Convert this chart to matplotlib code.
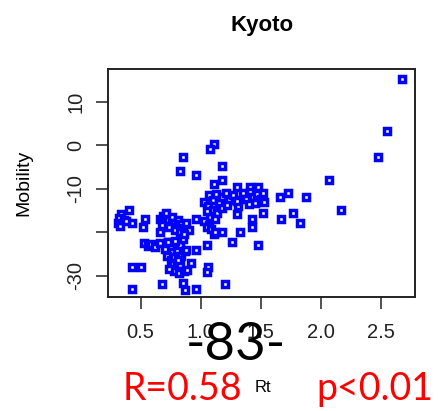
import matplotlib
matplotlib.use('Agg')
import matplotlib.pyplot as plt

plt.rcParams['font.family'] = ['Liberation Sans', 'DejaVu Sans']

# Rt vs Mobility, Kyoto
rt = [2.68, 2.55, 2.48, 2.07, 2.17, 1.88, 1.73, 1.66, 1.77, 1.83, 1.67,
      1.48, 1.52, 1.43, 1.43, 1.33, 1.26, 1.30, 1.31, 1.31, 1.30, 1.41, 1.48,
      1.11, 1.08, 1.18, 1.18, 1.11, 0.85, 0.83, 0.96,
      1.03, 1.07, 1.10, 1.13, 1.15, 1.18, 1.21, 1.24, 1.27, 1.30, 1.35, 1.38,
      1.41, 1.44, 1.47, 1.50, 1.52, 1.53, 1.45, 1.40, 1.06, 1.10, 1.14, 1.08,
      1.03, 1.07, 1.12, 1.05, 1.18, 1.22, 1.05, 1.11, 1.09,
      0.66, 0.69, 0.71, 0.73, 0.76, 0.78, 0.81, 0.84, 0.86, 0.88, 0.68, 0.74,
      0.79, 0.83, 0.90,
      0.53, 0.56, 0.59, 0.62, 0.66, 0.70, 0.73, 0.76, 0.72, 0.75, 0.78, 0.80,
      0.83, 0.85, 0.86, 0.77, 0.80, 0.83, 0.78, 0.82, 0.86, 0.89, 0.74, 0.84,
      0.87, 0.79, 0.81,
      0.40, 0.34, 0.32, 0.31, 0.33, 0.36, 0.43, 0.38, 0.54, 0.52, 0.96,
      1.12, 1.18, 1.05, 0.88, 0.96, 0.92, 0.43, 0.50, 1.06, 1.05, 0.68, 0.85,
      1.20, 0.43, 0.87, 0.96, 0.66, 0.73]
mobility = [15.1, 3.3, -2.8, -7.9, -14.8, -12.0, -11.1, -12.0, -15.7, -18.0, -17.0,
            -23.0, -15.7, -17.0, -18.9, -19.9, -22.2, -15.8, -14.0, -12.6, -9.7, -9.7, -9.7,
            0.3, -1.0, -4.8, -7.9, -8.9, -2.8, -5.9, -6.9,
            -13.0, -11.5, -12.5, -11.2, -13.3, -12.0, -11.0, -12.6, -11.4, -12.8, -11.0, -12.3,
            -10.8, -12.0, -11.2, -12.4, -11.0, -13.0, -13.2, -13.5, -14.0, -14.8, -15.5, -16.5,
            -17.5, -18.3, -17.0, -15.2, -14.5, -13.8, -18.9, -20.5, -19.3,
            -17.0, -16.2, -15.7, -17.2, -16.5, -17.8, -17.3, -18.2, -19.0, -18.0, -18.3, -18.8,
            -19.4, -20.0, -19.5,
            -22.5, -23.2, -22.8, -23.4, -22.5, -23.8, -22.2, -24.5, -25.5, -26.3, -25.8, -24.0,
            -23.0, -21.5, -20.5, -27.3, -28.0, -27.5, -28.9, -29.3, -29.0, -28.7, -28.5, -25.5,
            -24.3, -22.0, -26.5,
            -14.8, -15.8, -16.8, -17.8, -18.5, -17.2, -18.0, -17.5, -17.0, -18.9, -17.0,
            -19.9, -19.9, -23.0, -24.1, -24.1, -27.0, -28.1, -28.1, -27.9, -29.1, -31.8, -31.6,
            -31.8, -33.1, -33.3, -33.1, -19.9, -22.2]

yticks = [10, 0, -10, -20, -30]
ytick_labels = ['10', '0', '-10', '', '-30']
xticks = [0.5, 1.0, 1.5, 2.0, 2.5]

fig = plt.figure(figsize=(4.42, 4.11), dpi=100)
ax = fig.add_axes([0.2443, 0.2774, 0.6946, 0.5547])
ax.plot(rt, mobility, 's', color='blue', markersize=4.3, mfc='white', mec='blue', mew=2.5)
ax.set_xlim(0.228, 2.786)
ax.set_ylim(-34.9, 17.5)
ax.set_xticks(xticks)
ax.set_xticklabels(['0.5', '1.0', '1.5', '2.0', '2.5'])
ax.set_yticks(yticks)
ax.set_yticklabels(ytick_labels, rotation=90, va='center')
ax.tick_params(length=8.5, width=1.2, labelsize=14.5, colors='#333333', labelcolor='#222222', pad=10)
ax.tick_params(axis='y', pad=8)
for s in ax.spines.values():
    s.set_linewidth(1.4)
    s.set_color('#222222')

ax.set_ylabel('Mobility', fontsize=14, va='center')
ax.yaxis.set_label_coords(-0.274, 0.5)
ax.set_xlabel('Rt', fontsize=12, va='center')
ax.xaxis.set_label_coords(0.505, -0.395)

fig.text(0.592, 0.925, 'Kyoto', fontsize=16, fontweight='bold', ha='center', va='baseline')
fig.text(0.534, 0.124, '-83-', fontsize=38, family='Lato', ha='center', va='baseline')
fig.text(0.412, 0.0268, 'R=0.58', fontsize=27, family='Lato', color='red', ha='center', va='baseline')
fig.text(0.848, 0.0268, 'p<0.01', fontsize=27, family='Lato', color='red', ha='center', va='baseline')

fig.savefig('out.png', dpi=100)
